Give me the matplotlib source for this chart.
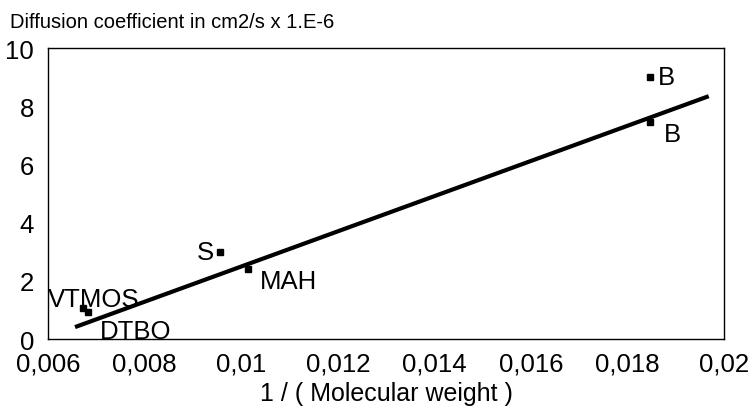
import matplotlib.pyplot as plt
from matplotlib.ticker import FuncFormatter, MultipleLocator

plt.rcParams['font.family'] = ['Liberation Sans', 'DejaVu Sans']

# measured points
names = ['B', 'B', 'S', 'MAH', 'VTMOS', 'DTBO']
inv_mw = [0.01846, 0.01846, 0.00956, 0.01014, 0.00672, 0.00683]
diff_coef = [9.0, 7.46, 2.99, 2.4, 1.07, 0.93]

# fitted line end points
fit_x = [0.00656, 0.01968]
fit_y = [0.41, 8.35]

# label offsets in pixels (dx, dy, ha)
label_offsets = [(8, 0, 'left'), (14, -12, 'left'), (-6, 0, 'right'),
                 (12, -12, 'left'), (-35, 9, 'left'), (12, -19, 'left')]

fig = plt.figure(figsize=(7.52, 4.10), dpi=100)
ax = fig.add_axes([0.0638, 0.1707, 0.8992, 0.7093])

ax.plot(fit_x, fit_y, color='black', linewidth=3, solid_capstyle='butt')
ax.plot(inv_mw, diff_coef, linestyle='none', marker='s', markersize=5,
        color='black')

for name, x, y, (dx, dy, ha) in zip(names, inv_mw, diff_coef, label_offsets):
    ax.annotate(name, (x, y), xytext=(dx, dy), textcoords='offset pixels',
                ha=ha, va='center', fontsize=18.5)

ax.set_xlim(0.006, 0.02)
ax.set_ylim(0, 10)
ax.xaxis.set_major_locator(MultipleLocator(0.002))
ax.yaxis.set_major_locator(MultipleLocator(2))
ax.xaxis.set_major_formatter(FuncFormatter(lambda v, p: ('%g' % round(v, 4)).replace('.', ',')))
ax.yaxis.set_major_formatter(FuncFormatter(lambda v, p: '%g' % v))
ax.tick_params(length=0, labelsize=18.5)
ax.tick_params(axis='y', pad=10)
ax.tick_params(axis='x', pad=9)
for lab in ax.get_yticklabels():
    lab.set_verticalalignment('center_baseline')

for s in ax.spines.values():
    s.set_linewidth(1)

fig.text(0.013, 0.945, 'Diffusion coefficient in cm2/s x 1.E-6', fontsize=14.5,
         va='center', ha='left')
ax.set_xlabel('1 / ( Molecular weight )', fontsize=18, labelpad=4)

fig.savefig('out.png', dpi=100)
